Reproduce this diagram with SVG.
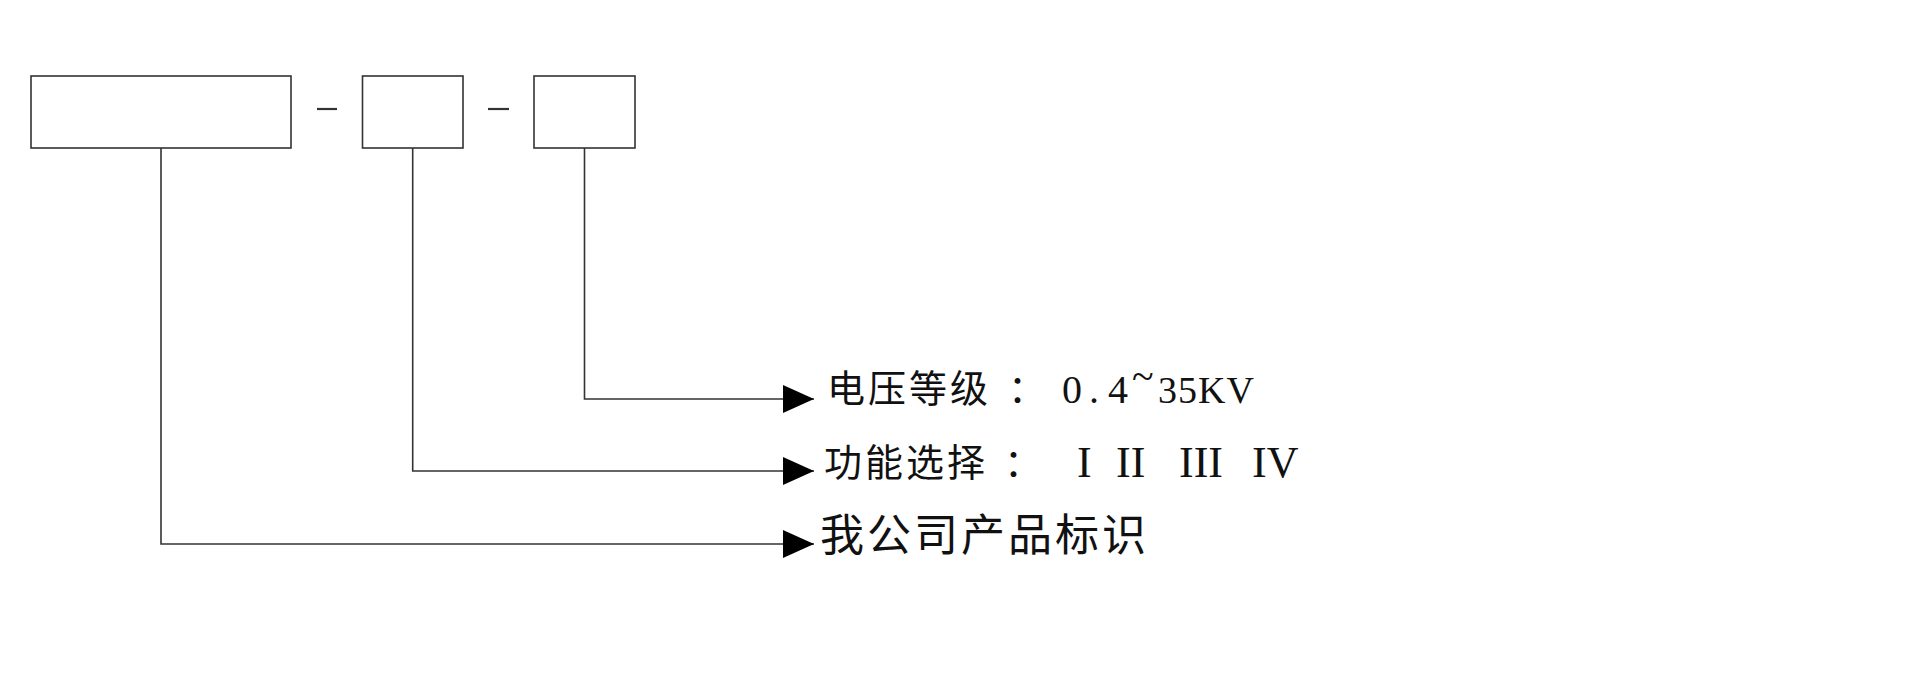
<svg xmlns="http://www.w3.org/2000/svg" width="1920" height="698" viewBox="0 0 1920 698">
<style>
.box{fill:#fff;stroke:#333;stroke-width:1.6}
.ln{fill:none;stroke:#333;stroke-width:1.6}
.dash{stroke:#333;stroke-width:2.2}
.cjk{font-family:"Noto Sans CJK SC","Noto Sans CJK TC",sans-serif;fill:#111}
.lat{font-family:"Liberation Serif",serif;fill:#111}
</style>
<defs>
<marker id="arr" markerWidth="31" markerHeight="28" refX="31" refY="14" orient="auto" markerUnits="userSpaceOnUse">
<path d="M0,0 L31,14 L0,28 Z" fill="#000"/>
</marker>
</defs>
<rect width="1920" height="698" fill="#fff"/>
<g id="box-product"><rect class="box" x="31" y="76" width="260" height="72"/></g>
<g id="dash1"><line class="dash" x1="317" y1="109" x2="337" y2="109"/></g>
<g id="box-function"><rect class="box" x="362.5" y="76" width="100.5" height="72"/></g>
<g id="dash2"><line class="dash" x1="488" y1="109" x2="509" y2="109"/></g>
<g id="box-voltage"><rect class="box" x="534" y="76" width="101" height="72"/></g>
<g id="connectors">
<polyline class="ln" points="584.5,148 584.5,399 814,399" marker-end="url(#arr)"/>
<polyline class="ln" points="412.7,148 412.7,471 814,471" marker-end="url(#arr)"/>
<polyline class="ln" points="161,148 161,544 814,544" marker-end="url(#arr)"/>
</g>
<g id="label-voltage">
<text class="cjk" y="402" font-size="38" letter-spacing="3"><tspan x="827">电压等级</tspan><tspan x="1008">：</tspan></text>
<text class="lat" font-size="40" y="403"><tspan x="1062">0</tspan><tspan x="1089">.</tspan><tspan x="1108">4</tspan><tspan x="1132" dy="-13">~</tspan><tspan x="1158" dy="13" font-size="38" letter-spacing="1">35KV</tspan></text>
</g>
<g id="label-function">
<text class="cjk" y="476" font-size="38" letter-spacing="3"><tspan x="824">功能选择</tspan><tspan x="1004">：</tspan></text>
<text class="lat" font-size="44" y="477"><tspan x="1077">I</tspan><tspan x="1116">II</tspan><tspan x="1179">III</tspan><tspan x="1252">IV</tspan></text>
</g>
<g id="label-product">
<text class="cjk" x="820" y="551" font-size="44" letter-spacing="3">我公司产品标识</text>
</g>
</svg>
